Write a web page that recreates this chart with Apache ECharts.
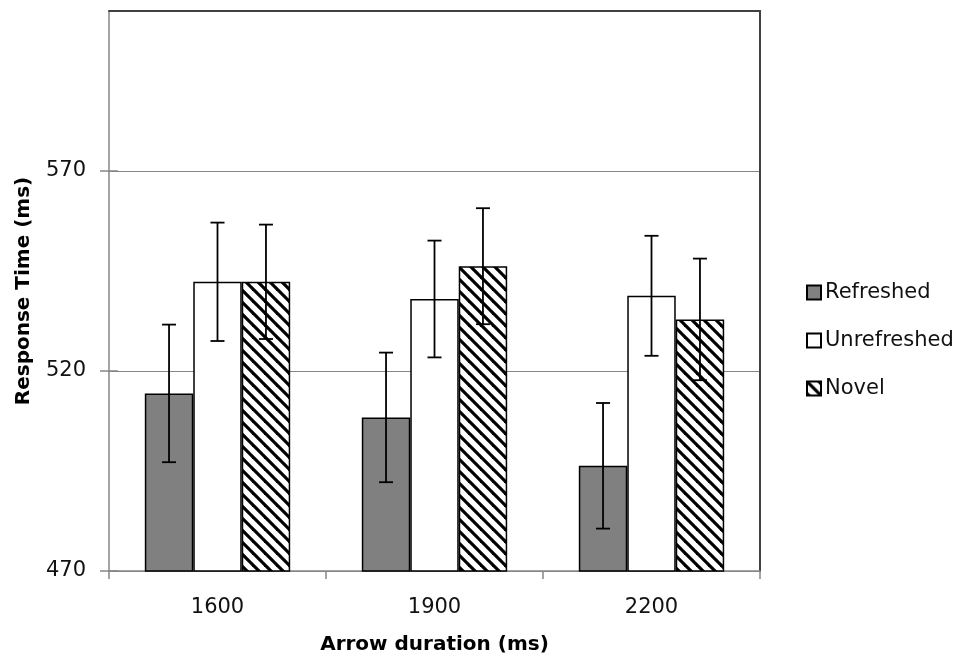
<!DOCTYPE html>
<html>
<head>
<meta charset="utf-8">
<script src="https://cdn.jsdelivr.net/npm/echarts@6/dist/echarts.min.js"></script>
<style>
html,body{margin:0;padding:0;background:#fff;}
#chart{width:962px;height:660px;}
</style>
</head>
<body>
<div id="chart"></div>
<script>
// ---- data ----
const categories = ['1600', '1900', '2200'];
const seriesNames = ['Refreshed', 'Unrefreshed', 'Novel'];
const refreshed = [514.4, 508.4, 496.3];
const unrefreshed = [542.3, 538.0, 538.8];
const novel = [542.3, 546.2, 532.9];
const refreshedErr = [17.2, 16.2, 15.7];
const unrefreshedErr = [14.8, 14.6, 15.0];
const novelErr = [14.3, 14.5, 15.2];
const yTicks = [470, 520, 570];
const yMin = 470, yMax = 610, yInterval = 50;

// ---- styling ----
const FONT = 'DejaVu Sans';
const GAP = 0.33;

function makeHatch() {
  const c = document.createElement('canvas');
  c.width = 12; c.height = 12;
  const g = c.getContext('2d');
  g.fillStyle = '#fff';
  g.fillRect(0, 0, 12, 12);
  g.strokeStyle = '#000';
  g.lineWidth = 3.2;
  g.lineCap = 'square';
  for (const x of [-12, 0, 12]) {
    g.beginPath();
    g.moveTo(x, 0);
    g.lineTo(x + 12, 12);
    g.stroke();
  }
  return c;
}
const hatch = { image: makeHatch(), repeat: 'repeat' };

function errSeries(name, means, errs, slot) {
  return {
    type: 'custom',
    name: name + ' err',
    z: 5,
    encode: { x: 0, y: 1 },
    data: means.map((m, i) => [i, m, errs[i]]),
    renderItem: function (params, api) {
      const ci = api.value(0), mean = api.value(1), err = api.value(2);
      const band = api.size([1, 0])[0];
      const bw = band * (1 - GAP) / 3;
      const c = api.coord([ci, mean]);
      const x = c[0] + slot * bw;
      const top = api.coord([ci, mean + err])[1];
      const bot = api.coord([ci, mean - err])[1];
      const cap = 7;
      const st = { stroke: '#000', lineWidth: 1.8 };
      return {
        type: 'group',
        children: [
          { type: 'line', shape: { x1: x, y1: top, x2: x, y2: bot }, style: st },
          { type: 'line', shape: { x1: x - cap, y1: top, x2: x + cap, y2: top }, style: st },
          { type: 'line', shape: { x1: x - cap, y1: bot, x2: x + cap, y2: bot }, style: st }
        ]
      };
    }
  };
}

const chart = echarts.init(document.getElementById('chart'));
const axisGray = '#868686';
chart.setOption({
  animation: false,
  backgroundColor: '#fff',
  textStyle: { fontFamily: FONT },
  grid: { left: 109, right: 202, top: 11, bottom: 88, containLabel: false },
  legend: {
    data: seriesNames,
    orient: 'vertical',
    left: 801,
    top: 277,
    itemWidth: 14,
    itemHeight: 14,
    itemGap: 27,
    icon: 'rect',
    textStyle: { fontFamily: FONT, fontSize: 21, color: '#111', padding: [0, 0, 0, -1] }
  },
  xAxis: [
    {
      type: 'category',
      data: categories,
      boundaryGap: true,
      name: 'Arrow duration (ms)',
      nameLocation: 'middle',
      nameGap: 64,
      nameMoveOverlap: false,
      nameTextStyle: { fontFamily: FONT, fontWeight: 'bold', fontSize: 20, color: '#000' },
      axisLine: { lineStyle: { color: axisGray, width: 1.5 } },
      axisTick: { show: true, alignWithLabel: false, length: 8, lineStyle: { color: axisGray, width: 1.5 } },
      axisLabel: { fontFamily: FONT, fontSize: 21, color: '#111', margin: 26 },
      splitLine: { show: false }
    },
    {
      type: 'category',
      data: categories,
      position: 'top',
      axisLine: { show: true, lineStyle: { color: '#404040', width: 2 } },
      axisTick: { show: false },
      axisLabel: { show: false },
      splitLine: { show: false }
    }
  ],
  yAxis: [
    {
      type: 'value',
      min: yMin, max: yMax, interval: yInterval,
      name: 'Response Time (ms)',
      nameLocation: 'middle',
      nameGap: 75,
      nameMoveOverlap: false,
      nameRotate: 90,
      nameTextStyle: { fontFamily: FONT, fontWeight: 'bold', fontSize: 20, color: '#000' },
      axisLine: { show: true, lineStyle: { color: axisGray, width: 1.5 } },
      axisTick: { show: true, length: 9, customValues: yTicks, lineStyle: { color: axisGray, width: 1.5 } },
      axisLabel: { fontFamily: FONT, fontSize: 21, color: '#111', margin: 23, customValues: yTicks },
      splitLine: { show: true, lineStyle: { color: axisGray, width: 1.2 } }
    },
    {
      type: 'value',
      min: yMin, max: yMax, interval: yInterval,
      position: 'left',
      axisLine: { show: false },
      axisTick: { show: true, inside: true, length: 9, customValues: yTicks, lineStyle: { color: axisGray, width: 1.5 } },
      axisLabel: { show: false },
      splitLine: { show: false }
    },
    {
      type: 'value',
      min: yMin, max: yMax, interval: yInterval,
      position: 'right',
      axisLine: { show: true, lineStyle: { color: '#404040', width: 2 } },
      axisTick: { show: false },
      axisLabel: { show: false },
      splitLine: { show: false }
    }
  ],
  series: [
    {
      type: 'bar', name: 'Refreshed', data: refreshed,
      barGap: '0%', barCategoryGap: (GAP * 100) + '%',
      itemStyle: { color: '#808080', borderColor: '#000', borderWidth: 1.5 }
    },
    {
      type: 'bar', name: 'Unrefreshed', data: unrefreshed,
      barGap: '0%', barCategoryGap: (GAP * 100) + '%',
      itemStyle: { color: '#fff', borderColor: '#000', borderWidth: 1.5 }
    },
    {
      type: 'bar', name: 'Novel', data: novel,
      barGap: '0%', barCategoryGap: (GAP * 100) + '%',
      itemStyle: { color: hatch, borderColor: '#000', borderWidth: 1.5 }
    },
    errSeries('Refreshed', refreshed, refreshedErr, -1),
    errSeries('Unrefreshed', unrefreshed, unrefreshedErr, 0),
    errSeries('Novel', novel, novelErr, 1)
  ]
});
</script>
</body>
</html>
